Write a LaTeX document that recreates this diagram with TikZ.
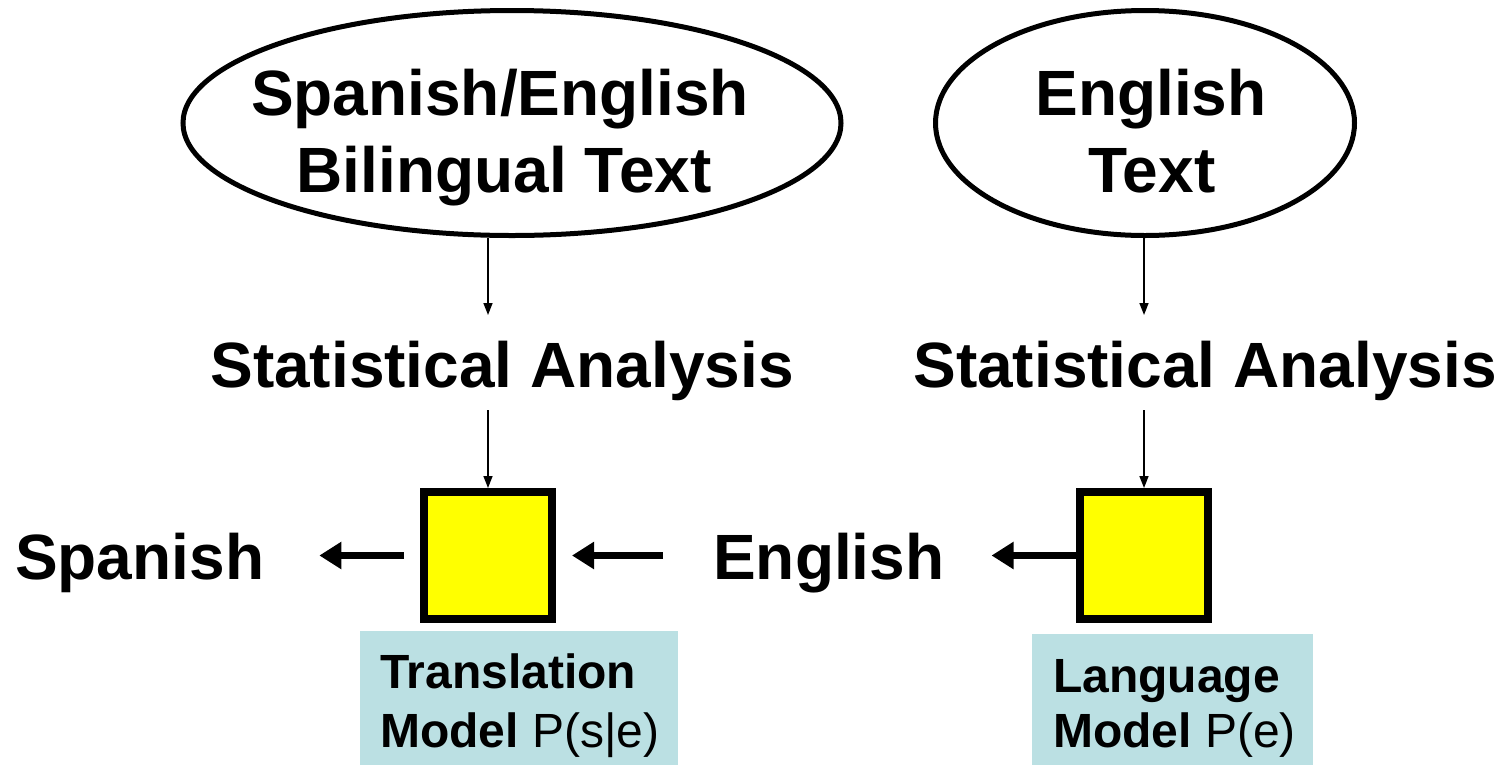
\documentclass[tikz,border=0pt]{standalone}
\usepackage{fontspec}
\setmainfont{Liberation Sans}
\usetikzlibrary{shapes.geometric,arrows.meta}
\definecolor{boxcyan}{HTML}{BBE0E3}
\definecolor{boxyellow}{HTML}{FFFF00}
\begin{document}
\begin{tikzpicture}[x=1pt,y=-1pt,
  big/.style={font=\fontsize{64}{70}\selectfont\bfseries, inner sep=0pt},
  small/.style={font=\fontsize{48}{54}\selectfont, inner sep=0pt},
  oval/.style={draw, ellipse, line width=5pt, inner sep=0pt, minimum height=225pt},
  modelbox/.style={draw, fill=boxyellow, line width=8pt, minimum width=128pt, minimum height=127pt, inner sep=0pt},
  labelbox/.style={fill=boxcyan, inner sep=0pt, anchor=north west},
  thinarrow/.style={line width=1.5pt, -{Triangle[length=12pt,width=9pt]}},
  thickarrow/.style={line width=7pt, -{Triangle[length=22pt,width=26pt]}}
]
\useasboundingbox (0,0) rectangle (1504,764);

% top ovals
\node[oval, minimum width=658pt] (e1) at (512,123) {};
\node[big, anchor=base] (e1a) at (500,115) {Spanish/English};
\node[big, anchor=base] (e1b) at (504,192) {Bilingual Text};
\node[oval, minimum width=419pt] (e2) at (1145,123) {};
\node[big, anchor=base] (e2a) at (1151,115) {English};
\node[big, anchor=base] (e2b) at (1152,192) {Text};

% statistical analysis
\node[big, anchor=base] (sa1) at (502,387) {Statistical Analysis};
\node[big, anchor=base] (sa2) at (1205,387) {Statistical Analysis};

% model boxes
\node[modelbox] (tm) at (488,555.5) {};
\node[modelbox] (lm) at (1144,555.5) {};

% side words
\node[big, anchor=base west] (sp) at (15,579) {Spanish};
\node[big, anchor=base west] (en) at (713,579) {English};

% label boxes
\node[labelbox, minimum width=318pt, minimum height=135pt] (tl) at (360,631) {};
\node[small, anchor=base west] (tl1) at (380,688) {\bfseries Translation};
\node[small, anchor=base west] (tl2) at (380,747) {\bfseries Model\mdseries{} P(s|e)};
\node[labelbox, minimum width=281pt, minimum height=132pt] (ll) at (1032,634) {};
\node[small, anchor=base west] (ll1) at (1053,692) {\bfseries Language};
\node[small, anchor=base west] (ll2) at (1053,747) {\bfseries Model\mdseries{} P(e)};

% thin arrows
\draw[thinarrow] (tm.north |- e1.south) -- (tm.north |- 0,315);
\draw[thinarrow] (tm.north |- 0,410) -- (tm.north);
\draw[thinarrow] (lm.north |- e2.south) -- (lm.north |- 0,315);
\draw[thinarrow] (lm.north |- 0,410) -- (lm.north);

% thick arrows
\draw[thickarrow, shorten <=16pt] (tm.west) -- (tm.west -| sp.east) [shorten >=55pt];
\draw[thickarrow, shorten <=50pt, shorten >=16pt] (tm.east -| en.west) -- (tm.east);
\draw[thickarrow, shorten >=47pt] (lm.west) -- (lm.west -| en.east);
\end{tikzpicture}
\end{document}
